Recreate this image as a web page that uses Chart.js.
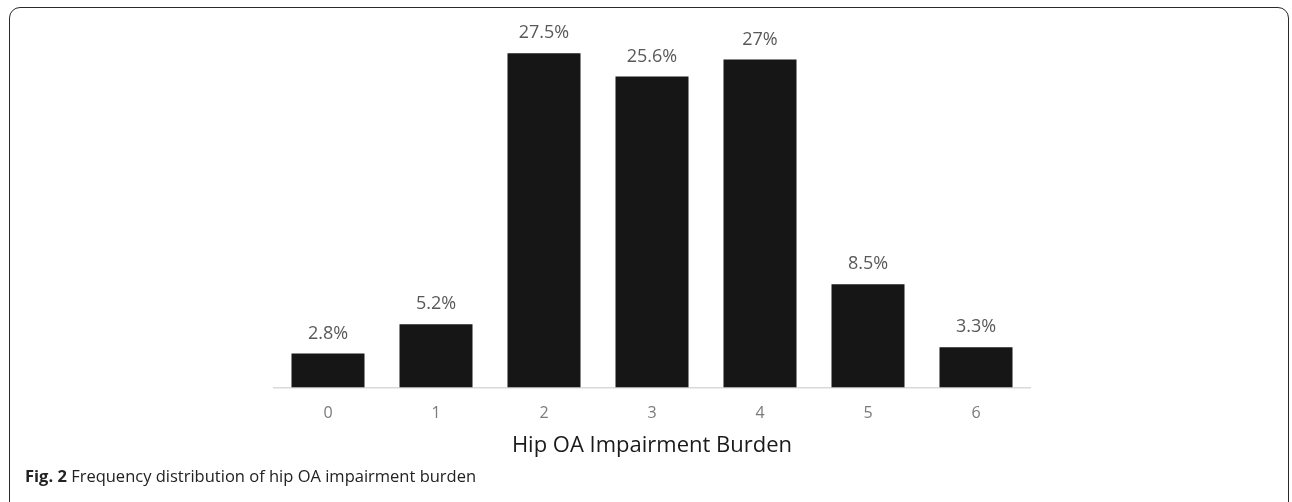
<!DOCTYPE html>
<html>
<head>
<meta charset="utf-8">
<script src="https://cdn.jsdelivr.net/npm/chart.js@4"></script>
<style>
  html, body { margin: 0; padding: 0; background: #fff; }
  #wrap { position: relative; width: 1292px; height: 502px; overflow: hidden; }
  #frame { position: absolute; left: 9px; top: 7px; width: 1280px; height: 520px;
           border: 1.6px solid #2a2a2a; border-radius: 11px; box-sizing: border-box; }
  #chart { position: absolute; left: 0; top: 0; }
  #caption { position: absolute; left: 25px; top: 464px; font-family: "Open Sans", sans-serif;
             font-size: 16.5px; color: #222; white-space: nowrap; }
  #caption b { font-weight: 700; }
</style>
</head>
<body>
<div id="wrap">
  <div id="frame"></div>
  <canvas id="chart" width="1292" height="502"></canvas>
  <div id="caption"><b>Fig. 2</b> Frequency distribution of hip OA impairment burden</div>
</div>
<script>
const categories = ["0", "1", "2", "3", "4", "5", "6"];
const percentages = [2.8, 5.2, 27.5, 25.6, 27, 8.5, 3.3];
const axisTitle = "Hip OA Impairment Burden";

const valueLabels = {
  id: "valueLabels",
  afterDatasetsDraw(chart) {
    const ctx = chart.ctx;
    const meta = chart.getDatasetMeta(0);
    ctx.save();
    ctx.font = "18px 'Open Sans', sans-serif";
    ctx.fillStyle = "#595959";
    ctx.textAlign = "center";
    ctx.textBaseline = "middle";
    meta.data.forEach((bar, i) => {
      ctx.fillText(percentages[i] + "%", bar.x, bar.y - 20);
    });
    ctx.restore();
  }
};

new Chart(document.getElementById("chart"), {
  type: "bar",
  data: {
    labels: categories,
    datasets: [{
      data: percentages,
      backgroundColor: "#161616",
      borderWidth: 0,
      categoryPercentage: 1,
      barPercentage: 0.676
    }]
  },
  options: {
    responsive: false,
    animation: false,
    devicePixelRatio: 1,
    layout: { padding: { left: 274, right: 262, top: 23, bottom: 43 } },
    plugins: { legend: { display: false }, tooltip: { enabled: false } },
    scales: {
      x: {
        grid: { display: false, drawTicks: false },
        border: { display: true, color: "#d9d9d9", width: 1.5 },
        ticks: { color: "#7a7a7a", font: { family: "'Open Sans', sans-serif", size: 16 }, padding: 16 },
        title: { display: true, text: axisTitle, color: "#1a1a1a",
                 font: { family: "'Open Sans', sans-serif", size: 22 }, padding: { top: -6, bottom: 0 } }
      },
      y: { display: false, min: 0, max: 30 }
    }
  },
  plugins: [valueLabels]
});
</script>
</body>
</html>
